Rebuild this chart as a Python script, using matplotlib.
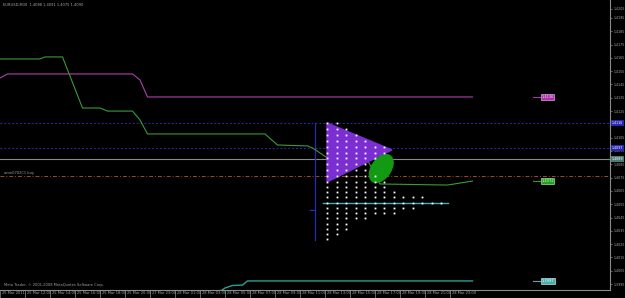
import matplotlib
matplotlib.use("Agg")
import matplotlib.pyplot as plt
from matplotlib.patches import Polygon, Ellipse
from matplotlib.transforms import ScaledTranslation, blended_transform_factory

# ---------------- data ----------------
x_tick_hours = [0, 2, 4, 6, 8, 10, 12, 14, 16, 18, 20, 22, 24, 26, 28, 30, 32, 34, 36]
x_tick_labels = ["25 Mar 2011", "25 Mar 12:00", "25 Mar 14:00", "25 Mar 16:00", "25 Mar 18:00",
                 "25 Mar 20:00", "27 Mar 23:00", "28 Mar 01:00", "28 Mar 03:00", "28 Mar 05:00",
                 "28 Mar 07:00", "28 Mar 09:00", "28 Mar 11:00", "28 Mar 13:00", "28 Mar 15:00",
                 "28 Mar 17:00", "28 Mar 19:00", "28 Mar 21:00", "28 Mar 23:00"]
y_tick_values = [1.4195, 1.4185, 1.4175, 1.4165, 1.4155, 1.4145, 1.4135, 1.4125, 1.4115, 1.4105,
                 1.4095, 1.4085, 1.4075, 1.4065, 1.4055, 1.4045, 1.4035, 1.4025, 1.4015, 1.4005, 1.3995]
y_top_value = 1.4202
y_top_text = "1.4205"

green_h = [0, 3.2, 3.6, 5.0, 6.6, 8.0, 8.6, 10.6, 11.2, 11.8, 21.2, 22.2, 24.6, 25.0, 25.6, 26.2,
           29.4, 30.4, 35.8, 36.8, 37.8]
green_p = [1.41642, 1.41642, 1.41657, 1.41657, 1.41273, 1.41273, 1.41250, 1.41250, 1.41183, 1.41078,
           1.41078, 1.40995, 1.40988, 1.40973, 1.40935, 1.40897, 1.40882, 1.40702, 1.40694, 1.40709,
           1.40724]

magenta_h = [0, 0.6, 10.6, 11.2, 11.8, 37.8]
magenta_p = [1.41499, 1.41529, 1.41529, 1.41484, 1.41356, 1.41356]

teal_h = [17.4, 18.0, 18.6, 19.4, 19.8, 37.8]
teal_p = [1.39882, 1.39920, 1.39939, 1.39942, 1.39973, 1.39973]

hline_blue = [1.41161, 1.40973]
hline_gray = 1.40890
hline_orange = 1.40762
hline_label = "ame0702C1 buy"

teal_seg_h = [25.8, 35.8]
teal_seg_p = 1.40559

vline_h = 25.2
vline_p = [1.41161, 1.40281]
vtick_p = 1.40506

tri_h = [26.16, 31.36, 26.16]
tri_p = [1.41161, 1.40958, 1.40717]

ell_h, ell_p = 30.5, 1.40818

dot_rows = [1.41161, 1.41115, 1.41070, 1.41025, 1.40980, 1.40935, 1.40897, 1.40852, 1.40807,
            1.40762, 1.40717, 1.40679, 1.40642, 1.40604, 1.40559, 1.40521, 1.40484, 1.40446,
            1.40401, 1.40364, 1.40326, 1.40288]
dot_counts = [2, 3, 4, 5, 7, 7, 6, 5, 5, 6, 7, 7, 8, 11, 13, 10, 8, 5, 3, 3, 2, 1]
dot_start_h = 26.16
dot_step_h = 0.76

right_labels = [("1.4136", 1.41356, "#b030b0", "#f0d0f0"),
                ("1.4072", 1.40724, "#22a022", "#d0ffd0"),
                ("1.3997", 1.39973, "#40b0b0", "#ffffff")]
axis_boxes = [("1.4116", 1.41161, "#2828b8", "#ffffff"),
              ("1.4097", 1.40973, "#2828b8", "#ffffff"),
              ("1.4089", 1.40890, "#4a7a74", "#ffffff")]

title_text = "EURUSD,M30  1.4088 1.4091 1.4075 1.4090"
copyright_text = "Meta Trader, \u00a9 2001-2008 MetaQuotes Software Corp."

FS = 2.6
FSY = 2.3

# ---------------- figure ----------------
fig = plt.figure(figsize=(6.25, 2.98), dpi=100, facecolor="black")
ax = fig.add_axes([0, 8 / 298, 610 / 625, 290 / 298], facecolor="black")
ax.set_xlim(0, 48.8)
ax.set_ylim(1.39905, 1.42085)

for s in ("left", "top"):
    ax.spines[s].set_visible(False)
for s in ("right", "bottom"):
    ax.spines[s].set_color("#8c8c8c")
    ax.spines[s].set_linewidth(0.8)

ax.yaxis.tick_right()
ax.set_yticks(y_tick_values + [y_top_value])
ax.set_yticklabels([f"{v:.4f}" for v in y_tick_values] + [y_top_text])
ax.tick_params(axis="y", colors="#8c8c8c", labelcolor="#a8a8a8", labelsize=FSY,
               length=1.5, width=0.5, pad=0.8, direction="out")
ax.set_xticks(x_tick_hours)
ax.set_xticklabels(x_tick_labels)
ax.tick_params(axis="x", colors="#8c8c8c", labelcolor="#a8a8a8", labelsize=FS,
               length=6, width=0.5, pad=-5.5, direction="out")
for lbl in ax.get_xticklabels():
    lbl.set_ha("left")
    lbl.set_va("top")
    lbl.set_transform(lbl.get_transform() + ScaledTranslation(1.5 / 100, 0, fig.dpi_scale_trans))

# horizontal lines
for p in hline_blue:
    ax.axhline(p, color="#2a2ab0", lw=0.7, ls=(0, (2, 2)), zorder=1)
ax.axhline(hline_gray, color="#8a8a8a", lw=0.8, zorder=1)
ax.axhline(hline_orange, color="#a04a20", lw=0.7, ls=(0, (4, 2, 1, 2)), zorder=1)
ax.text(0.3, hline_orange + 0.00008, hline_label, color="#a0a0a0", fontsize=FS, va="bottom", ha="left")

# indicator lines
ax.plot(magenta_h, magenta_p, color="#b040b0", lw=0.8, zorder=3)
ax.plot(green_h, green_p, color="#3a9a3a", lw=0.8, zorder=3)
ax.plot(teal_h, teal_p, color="#2e9e90", lw=1.0, zorder=3)

# vertical blue line
ax.plot([vline_h, vline_h], vline_p, color="#2a2ab8", lw=0.9, zorder=2)
ax.plot([vline_h - 0.4, vline_h], [vtick_p, vtick_p], color="#2a2ab8", lw=0.9, zorder=2)

# triangle
ax.add_patch(Polygon(list(zip(tri_h, tri_p)), closed=True, facecolor="#7b2fd0",
                     edgecolor="#7b2fd0", zorder=4))

# ellipse (size in inches)
etrans = fig.dpi_scale_trans + ScaledTranslation(ell_h, ell_p, ax.transData)
ax.add_patch(Ellipse((0, 0), 0.19, 0.31, angle=-35, transform=etrans,
                     facecolor="#139a13", edgecolor="#139a13", zorder=4))

# teal short segment
ax.plot(teal_seg_h, [teal_seg_p, teal_seg_p], color="#40b0b0", lw=1.0, zorder=5)

# dot grid
for p, n in zip(dot_rows, dot_counts):
    xs = [dot_start_h + i * dot_step_h for i in range(n)]
    ax.plot(xs, [p] * n, ls="none", marker="s", ms=1.3, mfc="white", mec="none", zorder=6)

# right price tags
for txt, p, bg, fg in right_labels:
    ax.plot([42.6, 43.2], [p, p], color=bg, lw=0.8, zorder=5)
    ax.text(43.3, p, txt, color=fg, fontsize=FS, va="center", ha="left", zorder=6,
            bbox=dict(boxstyle="square,pad=0.2", facecolor=bg, edgecolor=fg, lw=0.4))

# axis boxes
bt = blended_transform_factory(ax.transAxes, ax.transData)
for txt, p, bg, fg in axis_boxes:
    ax.text(1.003, p, txt, transform=bt, color=fg, fontsize=FSY, va="center", ha="left",
            clip_on=False, zorder=7,
            bbox=dict(boxstyle="square,pad=0.2", facecolor=bg, edgecolor="none"))

# texts
fig.text(3 / 625, 1 - 5 / 298, title_text, color="#a8a8a8", fontsize=FS, va="center", ha="left")
ax.text(0.3, 1.39930, copyright_text, color="#a0a0a0", fontsize=FS, va="bottom", ha="left")

fig.savefig("out.png", dpi=100, facecolor="black")
